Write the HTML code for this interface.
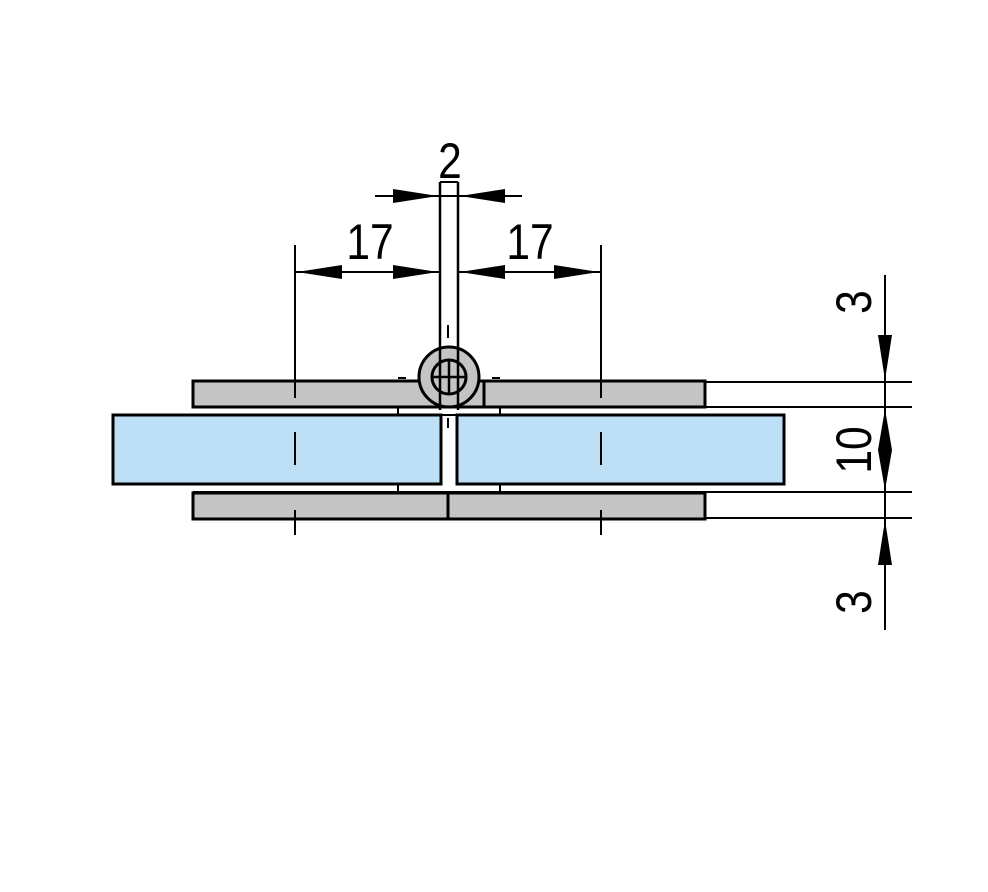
<!DOCTYPE html>
<html><head><style>body{margin:0;background:#fff}</style></head><body>
<svg width="988" height="887" viewBox="0 0 988 887" xmlns="http://www.w3.org/2000/svg" font-family="Liberation Sans, sans-serif">
<rect width="988" height="887" fill="#fff"/>
<g stroke="#000" stroke-width="3">
<rect x="193" y="381" width="512" height="26" fill="#c4c4c4"/>
<circle cx="449" cy="377" r="30" fill="#c4c4c4"/>
<line x1="484" y1="381" x2="484" y2="407"/>
<line x1="193" y1="407" x2="705" y2="407"/>
<line x1="193" y1="415" x2="705" y2="415" stroke-width="2"/>
<line x1="193" y1="492" x2="705" y2="492" stroke-width="2"/>
<line x1="398" y1="407" x2="398" y2="415" stroke-width="2"/>
<line x1="500" y1="407" x2="500" y2="415" stroke-width="2"/>
<line x1="398" y1="484" x2="398" y2="492" stroke-width="2"/>
<line x1="500" y1="484" x2="500" y2="492" stroke-width="2"/>
<rect x="113" y="415" width="328" height="69" fill="#bde0f7"/>
<rect x="457" y="415" width="327" height="69" fill="#bde0f7"/>
<rect x="193" y="493" width="512" height="26" fill="#c4c4c4"/>
<line x1="448" y1="493" x2="448" y2="519"/>
<circle cx="449" cy="377" r="17" fill="#c4c4c4"/>
<line x1="432" y1="377" x2="466" y2="377" stroke-width="2.5"/>
<line x1="449" y1="360" x2="449" y2="394" stroke-width="2.5"/>
<line x1="440" y1="182" x2="440" y2="410" stroke-width="2.5"/>
<line x1="458" y1="182" x2="458" y2="410" stroke-width="2.5"/>
<line x1="440" y1="182" x2="458" y2="182" stroke-width="2"/>
<line x1="448" y1="325" x2="448" y2="338" stroke-width="2"/>
<line x1="448" y1="418" x2="448" y2="428" stroke-width="2"/>
<line x1="398" y1="378" x2="406" y2="378" stroke-width="2"/>
<line x1="492" y1="378" x2="500" y2="378" stroke-width="2"/>
<line x1="295" y1="245" x2="295" y2="398" stroke-width="2"/>
<line x1="601" y1="245" x2="601" y2="398" stroke-width="2"/>
<line x1="295" y1="432" x2="295" y2="465" stroke-width="2"/>
<line x1="601" y1="432" x2="601" y2="465" stroke-width="2"/>
<line x1="295" y1="510" x2="295" y2="535" stroke-width="2"/>
<line x1="601" y1="510" x2="601" y2="535" stroke-width="2"/>
<line x1="295" y1="272" x2="440" y2="272" stroke-width="2"/>
<line x1="458" y1="272" x2="601" y2="272" stroke-width="2"/>
<line x1="375" y1="196" x2="522" y2="196" stroke-width="2"/>
<line x1="705" y1="382" x2="912" y2="382" stroke-width="2"/>
<line x1="705" y1="407" x2="912" y2="407" stroke-width="2"/>
<line x1="705" y1="492" x2="912" y2="492" stroke-width="2"/>
<line x1="705" y1="518" x2="912" y2="518" stroke-width="2"/>
<line x1="885" y1="275" x2="885" y2="630" stroke-width="2"/>
</g>
<g fill="#000">
<polygon points="297,272 342,265 342,279"/>
<polygon points="438,272 393,265 393,279"/>
<polygon points="460,272 505,265 505,279"/>
<polygon points="599,272 554,265 554,279"/>
<polygon points="438,196 393,189 393,203"/>
<polygon points="460,196 505,189 505,203"/>
<polygon points="885,380 878,335 892,335"/>
<polygon points="885,409 878,450 892,450"/>
<polygon points="885,490 878,450 892,450"/>
<polygon points="885,520 878,565 892,565"/>
</g>
<g font-size="50" text-anchor="middle">
<text transform="translate(450,178) scale(0.85,1)">2</text>
<text transform="translate(370,259) scale(0.85,1)">17</text>
<text transform="translate(530,259) scale(0.85,1)">17</text>
<text transform="translate(871,302) rotate(-90) scale(0.85,1)">3</text>
<text transform="translate(871,450) rotate(-90) scale(0.85,1)">10</text>
<text transform="translate(871,602) rotate(-90) scale(0.85,1)">3</text>
</g>
</svg>
</body></html>
